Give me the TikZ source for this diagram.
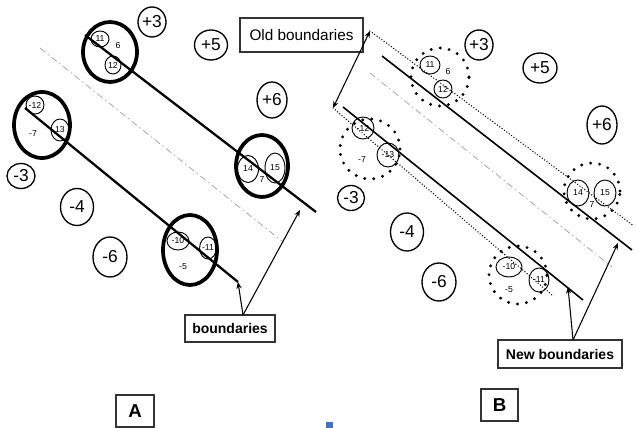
\documentclass[tikz,border=0pt]{standalone}
\usepackage{fontspec}
\setmainfont{Liberation Sans}
\usetikzlibrary{shapes.geometric,arrows.meta}
\begin{document}
\begin{tikzpicture}[x=0.75pt,y=-0.75pt,
  bub/.style 2 args={ellipse,draw,line width=1pt,inner sep=0pt,
    minimum width=#1*0.75pt,minimum height=#2*0.75pt,font=\fontsize{13}{13}\selectfont},
  cell/.style 2 args={ellipse,draw,line width=0.7pt,inner sep=0pt,
    minimum width=#1*0.75pt,minimum height=#2*0.75pt,font=\fontsize{6.5}{6.5}\selectfont},
  celltext/.style={inner sep=0pt,font=\fontsize{6.5}{6.5}\selectfont},
  clus/.style 2 args={ellipse,draw,line width=2.8pt,inner sep=0pt,
    minimum width=#1*0.75pt,minimum height=#2*0.75pt},
  dotclus/.style={circle,draw,line width=2.4pt,line cap=round,
    dash pattern=on 0pt off 6.8pt,inner sep=0pt,minimum size=#1*0.75pt},
  bound/.style={line width=1.7pt},
  newbound/.style={line width=1.2pt},
  oldbound/.style={line width=1.1pt,line cap=round,dash pattern=on 0pt off 2.2pt},
  midline/.style={black!40,line width=0.5pt,dash pattern=on 5pt off 2.5pt on 1pt off 2.5pt},
  pointer/.style={line width=0.8pt,-{Stealth[length=5pt,width=4pt]}},
  labelbox/.style 2 args={draw=black!80,line width=0.9pt,inner sep=0pt,
    minimum width=#1*0.75pt,minimum height=#2*0.75pt}
]
\useasboundingbox (0,0) rectangle (636,428);

% ---------------- Panel A ----------------
\coordinate (aUpS) at (85,35);
\coordinate (aUpE) at (316,212);
\coordinate (aLoS) at (25,108);
\coordinate (aLoE) at (238,282);
\coordinate (aMidS) at (40,48);
\coordinate (aMidE) at (283,242);
\draw[midline] (aMidS) -- (aMidE);
\draw[bound] (aUpS) -- (aUpE);
\draw[bound] (aLoS) -- (aLoE);

% grouped points, panel A
\node[clus={54}{60}] (gA1) at (110,52) {};
\node[cell={18}{16}] (a11) at (100,39) {11};
\node[cell={16}{18}] (a12) at (113,65) {12};
\node[celltext] (a6) at (118,46) {6};

\node[clus={56}{66}] (gA2) at (42,125) {};
\node[cell={18}{18}] (am12) at (35,105) {-12};
\node[cell={18}{22}] (am13) at (60,130) {13};
\node[celltext] (am7) at (33,134) {-7};

\node[clus={52}{62}] (gA3) at (262,166) {};
\node[cell={21}{27}] (a14) at (248,169) {14};
\node[cell={20}{30}] (a15) at (275,168) {15};
\node[celltext] (a7) at (262,180) {7};

\node[clus={54}{70}] (gA4) at (190,250) {};
\node[cell={22}{18}] (am10) at (178,241) {-10};
\node[cell={16}{22}] (am11) at (208,248) {-11};
\node[celltext] (am5) at (183,267) {-5};

% single points, panel A
\node[bub={28}{30}] (ap3) at (152,22) {+3};
\node[bub={33}{30}] (ap5) at (211,45) {+5};
\node[bub={30}{36}] (ap6) at (272,100) {+6};
\node[bub={28}{25}] (am3) at (21,176) {-3};
\node[bub={33}{37}] (am4) at (77,207) {-4};
\node[bub={34}{40}] (am6) at (110,257) {-6};

% label and pointers, panel A
\node[labelbox={90}{27},font=\bfseries\fontsize{10.5}{10.5}\selectfont] (bnd) at (230,328.5) {boundaries};
\coordinate (bsrc) at (243,315);
\coordinate (bTip) at (300,210);
\draw[pointer] (bsrc) -- (aLoE);
\draw[pointer] (bsrc) -- (bTip);

\node[labelbox={38}{32},font=\bfseries\fontsize{14}{14}\selectfont] (boxA) at (135,411) {A};

% ---------------- Panel B ----------------
\coordinate (bOldUpS) at (370,31);
\coordinate (bOldUpE) at (634,226);
\coordinate (bOldLoS) at (333,108);
\coordinate (bOldLoE) at (552,295);
\coordinate (bNewUpS) at (382,56);
\coordinate (bNewUpE) at (632,250);
\coordinate (bNewLoS) at (343,107);
\coordinate (bNewLoE) at (583,300);
\coordinate (bMidS) at (370,73);
\coordinate (bMidE) at (612,267);
\draw[midline] (bMidS) -- (bMidE);
\draw[oldbound] (bOldUpS) -- (bOldUpE);
\draw[oldbound] (bOldLoS) -- (bOldLoE);
\draw[newbound] (bNewUpS) -- (bNewUpE);
\draw[newbound] (bNewLoS) -- (bNewLoE);

% grouped points, panel B
\node[dotclus=58] (gB1) at (440,77) {};
\node[cell={20}{18}] (b11) at (430,65) {11};
\node[cell={18}{18}] (b12) at (443,89) {12};
\node[celltext] (b6) at (448,72) {6};

\node[dotclus=60] (gB2) at (370,149) {};
\node[cell={22}{22}] (bm12) at (363,128) {-12};
\node[cell={22}{24}] (bm13) at (388,155) {-13};
\node[celltext] (bm7) at (362,160) {-7};

\node[dotclus=56] (gB3) at (592,191) {};
\node[cell={22}{26}] (b14) at (578,193) {14};
\node[cell={22}{26}] (b15) at (605,193) {15};
\node[celltext] (b7) at (592,205) {7};

\node[dotclus=58] (gB4) at (518,275) {};
\node[cell={26}{20}] (bm10) at (509,267) {-10};
\node[cell={20}{24}] (bm11) at (539,280) {-11};
\node[celltext] (bm5) at (509,290) {-5};

% single points, panel B
\node[bub={28}{30}] (bp3) at (479,45) {+3};
\node[bub={34}{30}] (bp5) at (540,68) {+5};
\node[bub={30}{38}] (bp6) at (602,125) {+6};
\node[bub={27}{25}] (bm3) at (351,198) {-3};
\node[bub={33}{38}] (bm4) at (407,232) {-4};
\node[bub={34}{38}] (bm6) at (439,282) {-6};

% labels and pointers, panel B
\node[labelbox={123}{34},font=\fontsize{11.5}{11.5}\selectfont] (old) at (301.5,35) {Old boundaries};
\draw[line width=0.8pt,{Stealth[length=5pt,width=4pt]}-{Stealth[length=5pt,width=4pt]}] (bOldLoS) -- (bOldUpS);

\node[labelbox={124}{28},font=\bfseries\fontsize{10.5}{10.5}\selectfont] (new) at (560,354) {New boundaries};
\coordinate (nsrc) at (573,340);
\coordinate (nTipLo) at (568,287);
\coordinate (nTipUp) at (618,243);
\draw[pointer] (nsrc) -- (nTipLo);
\draw[pointer] (nsrc) -- (nTipUp);

\node[labelbox={37}{32},font=\bfseries\fontsize{14}{14}\selectfont] (boxB) at (499.5,405) {B};

% small blue marker at the bottom edge
\fill[fill={rgb,255:red,68;green,114;blue,196}] (326,422) rectangle (333,428);
\end{tikzpicture}
\end{document}
